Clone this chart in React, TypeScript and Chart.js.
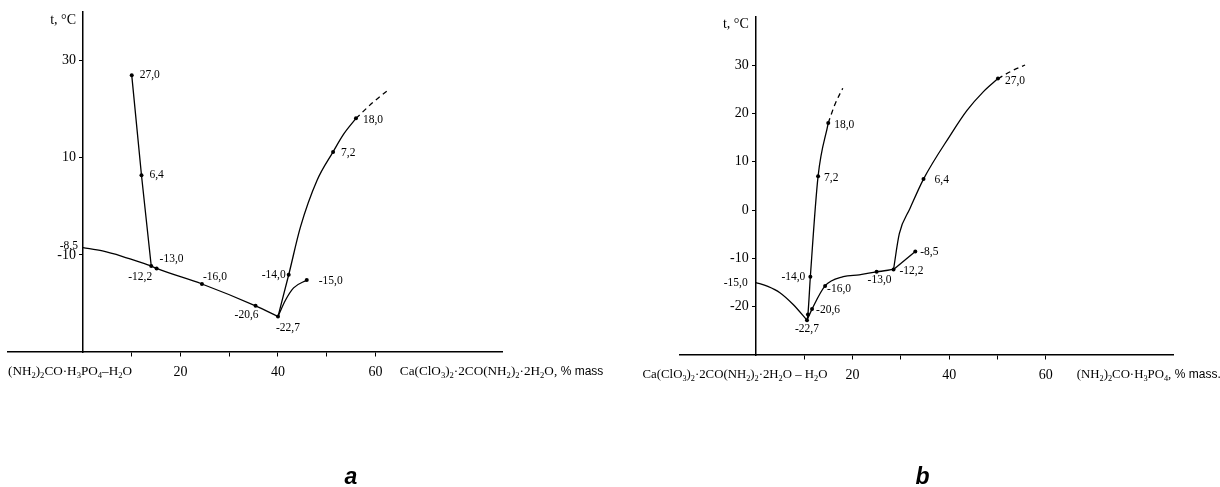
import React, { useEffect, useRef } from "react";
import { Chart, registerables } from "chart.js";

Chart.register(...registerables);

const SERIF = '"Liberation Serif", "Times New Roman", serif';
const SANS = '"Liberation Sans", Arial, sans-serif';

// ---------- Panel a data ----------
const A_Y_TICKS = [-10, 10, 30];
const A_X_TICKS = [10, 20, 30, 40, 50, 60];
const A_X_TICK_LABELS = ["", "20", "", "40", "", "60"];

const A_BRANCH_1: number[][] = [[0, -8.5], [4, -9.2], [8, -10.3], [14, -12.3]];
const A_BRANCH_2: number[][] = [[10, 27], [12, 6.4], [14, -12.3]];
const A_BRANCH_3: number[][] = [[14, -12.3], [15.1, -12.8], [24.4, -16], [35.4, -20.5], [40, -22.7]];
const A_BRANCH_4: number[][] = [[40, -22.7], [42.2, -14.1], [44.6, -4.3], [48, 5.3], [51.3, 11.2], [53.5, 14.9], [56, 18.1]];
const A_BRANCH_4_DASH: number[][] = [[56, 18.1], [59.5, 21.4], [62.7, 24]];
const A_BRANCH_5: number[][] = [[40, -22.7], [41.5, -19.4], [43.2, -16.8], [45.9, -15.2]];

const A_POINT_X = [10, 12, 14, 15.1, 24.4, 35.4, 40, 42.2, 45.9, 51.3, 56, 0];
const A_POINT_Y = [27, 6.4, -12.3, -12.8, -16, -20.5, -22.7, -14.1, -15.2, 11.2, 18.1, -8.5];
const A_POINT_LABELS = ["27,0", "6,4", "-12,2", "-13,0", "-16,0", "-20,6", "-22,7", "-14,0", "-15,0", "7,2", "18,0", "-8,5"];
const A_POINT_DOT = [true, true, true, true, true, true, true, true, true, true, true, false];

const A_LEFT_LABEL = "(NH_2)_2CO·H_3PO_4–H_2O";
const A_RIGHT_LABEL = "Ca(ClO_3)_2·2CO(NH_2)_2·2H_2O,";
const A_UNIT = "% mass";

// ---------- Panel b data ----------
const B_Y_TICKS = [-20, -10, 0, 10, 20, 30];
const B_X_TICKS = [10, 20, 30, 40, 50, 60];
const B_X_TICK_LABELS = ["", "20", "", "40", "", "60"];

const B_BRANCH_1: number[][] = [[0, -15], [2.5, -15.8], [5, -17.1], [7.8, -19.6], [10.6, -22.8]];
const B_BRANCH_2: number[][] = [[10.6, -22.8], [10.8, -21.6], [11.3, -13.8], [12.9, 7.0], [15, 18]];
const B_BRANCH_2_DASH: number[][] = [[15, 18], [16.4, 21.9], [18, 25.2]];
const B_BRANCH_3: number[][] = [[10.6, -22.8], [11.65, -20.5], [14.35, -15.7], [18.1, -13.8], [21.4, -13.4], [25, -12.8], [28.5, -12.3]];
const B_BRANCH_4: number[][] = [[28.5, -12.3], [33, -8.6]];
const B_BRANCH_5: number[][] = [[28.5, -12.3], [29.7, -4.9], [31.9, 0.3], [34.7, 6.4], [40.2, 15.4], [43.7, 20.6], [47.1, 24.5], [50.1, 27.2]];
const B_BRANCH_5_DASH: number[][] = [[50.1, 27.2], [53, 28.8], [55.7, 30]];

const B_POINT_X = [0, 10.6, 10.8, 11.3, 11.65, 14.35, 12.9, 15, 25, 28.5, 33, 34.7, 50.1];
const B_POINT_Y = [-15, -22.8, -21.6, -13.8, -20.5, -15.7, 7.0, 18, -12.8, -12.3, -8.6, 6.4, 27.2];
const B_POINT_LABELS = ["-15,0", "-22,7", "", "-14,0", "-20,6", "-16,0", "7,2", "18,0", "-13,0", "-12,2", "-8,5", "6,4", "27,0"];
const B_POINT_DOT = [false, true, true, true, true, true, true, true, true, true, true, true, true];

const B_LEFT_LABEL = "Ca(ClO_3)_2·2CO(NH_2)_2·2H_2O – H_2O";
const B_RIGHT_LABEL = "(NH_2)_2CO·H_3PO_4,";
const B_UNIT = "% mass.";

const Y_TITLE = "t, °C";

// ---------- label placement (px offsets from the marked point) ----------
const A_LABEL_PLACE: [number, number, CanvasTextAlign][] = [
  [8, 0, "left"], [8, 0, "left"], [1, 11, "right"], [3, -9, "left"], [1, -7, "left"],
  [3, 9, "right"], [-2, 11, "left"], [-3, 0, "right"], [12, 1, "left"], [8, 1, "left"],
  [7, 2, "left"], [-5, -2, "right"],
];
const B_LABEL_PLACE: [number, number, CanvasTextAlign][] = [
  [-8, 0, "right"], [0, 9, "center"], [0, 0, "left"], [-5, 0, "right"], [4, 1, "left"],
  [2, 3, "left"], [6, 2, "left"], [6, 2, "left"], [3, 8, "center"], [6, 2, "left"],
  [5, 0, "left"], [11, 1, "left"], [7, 2, "left"],
];

type Part = { t: string; sub: boolean };
function parseRich(s: string): Part[] {
  const parts: Part[] = [];
  let cur = "";
  for (let i = 0; i < s.length; i++) {
    if (s[i] === "_") {
      if (cur) parts.push({ t: cur, sub: false });
      cur = "";
      i++;
      parts.push({ t: s[i], sub: true });
    } else cur += s[i];
  }
  if (cur) parts.push({ t: cur, sub: false });
  return parts;
}
function drawRich(ctx: CanvasRenderingContext2D, s: string, x: number, y: number, size: number): number {
  let cx = x;
  ctx.textAlign = "left";
  ctx.textBaseline = "middle";
  for (const p of parseRich(s)) {
    const fs = p.sub ? size * 0.65 : size;
    ctx.font = `${fs}px ${SERIF}`;
    ctx.fillText(p.t, cx, p.sub ? y + size * 0.3 : y);
    cx += ctx.measureText(p.t).width;
  }
  return cx;
}

const toXY = (arr: number[][]) => arr.map(([x, y]) => ({ x, y }));

interface Panel {
  xMin: number; xMax: number;
  padding: { left: number; right: number; top: number; bottom: number };
  yTicks: number[]; xTicks: number[]; xTickLabels: string[];
  curves: number[][][]; straight: number[][][]; dashed: number[][][];
  px: number[]; py: number[]; labels: string[]; dots: boolean[];
  place: [number, number, CanvasTextAlign][];
  leftLabel: string; leftStart: number;
  rightLabel: string; rightStart: number; unit: string; labelSize: number;
  letter: string; letterX: number;
}

const PANEL_A: Panel = {
  xMin: -15.38, xMax: 85.95,
  padding: { left: 8, right: 108, top: 12, bottom: 135 },
  yTicks: A_Y_TICKS, xTicks: A_X_TICKS, xTickLabels: A_X_TICK_LABELS,
  curves: [A_BRANCH_1, A_BRANCH_3, A_BRANCH_4, A_BRANCH_5],
  straight: [A_BRANCH_2],
  dashed: [A_BRANCH_4_DASH],
  px: A_POINT_X, py: A_POINT_Y, labels: A_POINT_LABELS, dots: A_POINT_DOT,
  place: A_LABEL_PLACE,
  leftLabel: A_LEFT_LABEL, leftStart: -15.38,
  rightLabel: A_RIGHT_LABEL, rightStart: 65.0, unit: A_UNIT, labelSize: 13.2,
  letter: "a", letterX: 351,
};

const PANEL_B: Panel = {
  xMin: -15.66, xMax: 86.3,
  padding: { left: 70, right: 47, top: 16.7, bottom: 132 },
  yTicks: B_Y_TICKS, xTicks: B_X_TICKS, xTickLabels: B_X_TICK_LABELS,
  curves: [B_BRANCH_1, B_BRANCH_2, B_BRANCH_3, B_BRANCH_5],
  straight: [B_BRANCH_4],
  dashed: [B_BRANCH_2_DASH, B_BRANCH_5_DASH],
  px: B_POINT_X, py: B_POINT_Y, labels: B_POINT_LABELS, dots: B_POINT_DOT,
  place: B_LABEL_PLACE,
  leftLabel: B_LEFT_LABEL, leftStart: -23.4,
  rightLabel: B_RIGHT_LABEL, rightStart: 66.4, unit: B_UNIT, labelSize: 12.8,
  letter: "b", letterX: 312.5,
};

function makeConfig(p: Panel): any {
  const lineBase = { borderColor: "#000", borderWidth: 1.3, pointRadius: 0, fill: false, showLine: true };
  const datasets: any[] = [];
  p.curves.forEach((c) => datasets.push({ ...lineBase, type: "line", data: toXY(c), cubicInterpolationMode: "monotone" }));
  p.straight.forEach((c) => datasets.push({ ...lineBase, type: "line", data: toXY(c), tension: 0 }));
  p.dashed.forEach((c) => datasets.push({ ...lineBase, type: "line", data: toXY(c), cubicInterpolationMode: "monotone", borderDash: [5, 4] }));
  datasets.push({
    type: "scatter",
    data: p.px.map((x, i) => ({ x, y: p.py[i] })),
    pointRadius: (ctx: any) => (p.dots[ctx.dataIndex] ? 2 : 0),
    pointBackgroundColor: "#000",
    pointBorderWidth: 0,
    showLine: false,
  });

  const annot = {
    id: "annot" + p.letter,
    afterDraw(chart: any) {
      const ctx: CanvasRenderingContext2D = chart.ctx;
      const xs = chart.scales.x;
      const ys = chart.scales.y;
      const axisX = xs.getPixelForValue(0);
      ctx.save();
      ctx.fillStyle = "#000";
      // y tick labels, placed left of the axis line
      ctx.textBaseline = "middle";
      ctx.textAlign = "right";
      ctx.font = `14px ${SERIF}`;
      ys.ticks.forEach((t: any) => {
        ctx.fillText(String(t.value), axisX - 7, ys.getPixelForValue(t.value));
      });
      // point labels
      ctx.font = `11.5px ${SERIF}`;
      p.labels.forEach((t, i) => {
        if (!t) return;
        const [dx, dy, al] = p.place[i];
        ctx.textAlign = al;
        ctx.fillText(t, xs.getPixelForValue(p.px[i]) + dx, ys.getPixelForValue(p.py[i]) + dy);
      });
      // y title
      ctx.font = `14px ${SERIF}`;
      ctx.textAlign = "right";
      ctx.fillText(Y_TITLE, axisX - 7, ys.top + 8);
      // component names along the x axis
      const yLab = ys.getPixelForValue(-30) + 20;
      drawRich(ctx, p.leftLabel, xs.getPixelForValue(p.leftStart), yLab, p.labelSize);
      const end = drawRich(ctx, p.rightLabel, xs.getPixelForValue(p.rightStart), yLab, p.labelSize);
      ctx.font = `12px ${SANS}`;
      ctx.textAlign = "left";
      ctx.fillText(p.unit, end + 3.5, yLab);
      // panel letter
      ctx.font = `bold italic 23px ${SANS}`;
      ctx.textAlign = "center";
      ctx.textBaseline = "alphabetic";
      ctx.fillText(p.letter, p.letterX, 484);
      ctx.restore();
    },
  };

  return {
    type: "line",
    data: { datasets },
    options: {
      responsive: false,
      maintainAspectRatio: false,
      animation: false,
      layout: { padding: p.padding, autoPadding: false },
      plugins: { legend: { display: false }, tooltip: { enabled: false }, title: { display: false } },
      scales: {
        x: {
          type: "linear",
          axis: "x",
          min: p.xMin,
          max: p.xMax,
          position: { y: -30 },
          afterBuildTicks: (s: any) => { s.ticks = p.xTicks.map((v) => ({ value: v })); },
          ticks: {
            autoSkip: false,
            maxRotation: 0,
            padding: 7.5,
            color: "#000",
            font: { family: SERIF, size: 14 },
            callback: (_v: any, i: number) => p.xTickLabels[i] ?? "",
          },
          grid: { display: true, drawOnChartArea: false, drawTicks: true, tickLength: 4, color: "#000", lineWidth: 1 },
          border: { display: true, color: "#000", width: 1.5 },
        },
        y: {
          type: "linear",
          axis: "y",
          min: -30,
          max: 40,
          position: { x: 0 },
          afterBuildTicks: (s: any) => { s.ticks = p.yTicks.map((v) => ({ value: v })); },
          ticks: { display: false },
          grid: { display: true, drawOnChartArea: false, drawTicks: true, tickLength: 3, color: "#000", lineWidth: 1 },
          border: { display: true, color: "#000", width: 1.5 },
        },
      },
    },
    plugins: [annot],
  };
}

export default function App() {
  const refA = useRef<HTMLCanvasElement>(null);
  const refB = useRef<HTMLCanvasElement>(null);
  useEffect(() => {
    const a = new Chart(refA.current as HTMLCanvasElement, makeConfig(PANEL_A));
    const b = new Chart(refB.current as HTMLCanvasElement, makeConfig(PANEL_B));
    return () => {
      a.destroy();
      b.destroy();
    };
  }, []);
  return (
    <div style={{ position: "absolute", left: 0, top: 0, width: 1220, height: 487, background: "#fff" }}>
      <canvas ref={refA} width={610} height={487} style={{ position: "absolute", left: 0, top: 0, width: 610, height: 487 }} />
      <canvas ref={refB} width={610} height={487} style={{ position: "absolute", left: 610, top: 0, width: 610, height: 487 }} />
    </div>
  );
}
